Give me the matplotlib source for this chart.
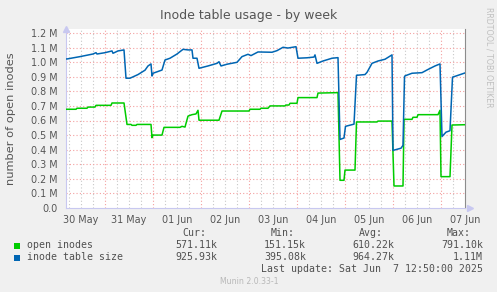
import matplotlib
matplotlib.use('Agg')
from matplotlib import pyplot as plt
from matplotlib.patches import Rectangle
import numpy as np

# hours since 30 May 00:00, values in millions
size_hours = [4.5, 5, 11.5, 18, 19.5, 20, 24, 27.5, 28, 30.5, 33.5, 34.5, 36.5, 40.5, 44,
              45.5, 47, 47.5, 48, 52.5, 54, 56.5, 60, 63, 65.5, 67.5, 68, 70, 71, 75.5,
              80, 81, 82, 85, 90, 92.5, 95.5, 97, 100.5, 107.5, 110, 113, 115.5, 119.5,
              120.5, 125, 128.5, 129, 130, 133, 137.5, 140.5, 141.5, 143.5, 144.25, 148.5,
              149.75, 154, 155, 157.5, 160.5, 164, 167.5, 168, 172, 173, 173.75, 174,
              177.5, 182.5, 185.5, 189, 191.5, 192.5, 194.5, 196.5, 197.75, 204]
size_vals = [1.022, 1.022, 1.038, 1.056, 1.065, 1.056, 1.065, 1.077, 1.061, 1.077, 1.084,
             0.89, 0.89, 0.915, 0.945, 0.974, 0.988, 0.905, 0.924, 0.946, 1.015, 1.027,
             1.056, 1.088, 1.084, 1.084, 1.027, 1.027, 0.958, 0.974, 0.992, 1.003, 0.974,
             0.986, 0.999, 1.038, 1.054, 1.045, 1.07, 1.068, 1.079, 1.102, 1.097, 1.106,
             1.027, 1.03, 1.035, 1.05, 0.992, 1.008, 1.027, 1.031, 0.47, 0.48, 0.56, 0.575,
             0.91, 0.915, 0.93, 0.992, 1.008, 1.02, 1.05, 0.395, 0.41, 0.43, 0.90, 0.906,
             0.924, 0.928, 0.95, 0.974, 0.988, 0.49, 0.52, 0.53, 0.897, 0.926]

open_hours = [4.5, 9.5, 10, 15, 15.5, 19, 19.5, 27, 27.5, 33.5, 35, 37, 37.5, 39.5, 40, 47,
              47.5, 48, 52.5, 53.5, 61.5, 62.5, 64, 65.5, 67.5, 69.5, 70.5, 71, 81, 82.5,
              96, 96.5, 101.5, 102, 105.5, 106.5, 114, 114.5, 116, 116.5, 120, 120.5, 130,
              130.5, 140.5, 141.5, 143.5, 144, 149, 149.75, 160, 160.5, 167.5, 168.5, 173,
              173.5, 177.5, 178, 180, 180.5, 190.5, 191.5, 192, 196.5, 197.5, 204]
open_vals = [0.677, 0.677, 0.684, 0.684, 0.692, 0.692, 0.704, 0.704, 0.72, 0.72, 0.573,
             0.573, 0.567, 0.567, 0.573, 0.573, 0.482, 0.50, 0.50, 0.553, 0.553, 0.56,
             0.555, 0.63, 0.64, 0.645, 0.67, 0.602, 0.602, 0.665, 0.665, 0.677, 0.677,
             0.684, 0.684, 0.70, 0.70, 0.706, 0.706, 0.718, 0.718, 0.757, 0.757, 0.788,
             0.791, 0.19, 0.19, 0.26, 0.26, 0.59, 0.59, 0.596, 0.596, 0.151, 0.151, 0.608,
             0.608, 0.622, 0.622, 0.64, 0.64, 0.67, 0.215, 0.215, 0.569, 0.571]

day_labels = ['30 May', '31 May', '01 Jun', '02 Jun', '03 Jun', '04 Jun', '05 Jun', '06 Jun', '07 Jun']
y_ticks = [0.0, 0.1, 0.2, 0.3, 0.4, 0.5, 0.6, 0.7, 0.8, 0.9, 1.0, 1.1, 1.2]

legend_names = ['open inodes', 'inode table size']
legend_colors = ['#00cc00', '#0066b3']
cur = ['571.11k', '925.93k']
mins = ['151.15k', '395.08k']
avgs = ['610.22k', '964.27k']
maxs = ['791.10k', '1.11M']

W, H = 497, 292
fig = plt.figure(figsize=(W / 100, H / 100), dpi=100, facecolor='#f0f0f0')

def px(x, y):
    return x / W, 1 - y / H

left, right, top, bottom = 66, 465, 29, 208
ax = fig.add_axes([left / W, 1 - bottom / H, (right - left) / W, (bottom - top) / H])
ax.set_facecolor('white')

ax.set_xlim(4.5, 204)
ax.set_ylim(0, 1.2 * (bottom - top) / 175)

# grid
for h in np.arange(6, 204, 6):
    if h % 24 == 0:
        continue
    ax.axvline(h, color='#c8c8c8', lw=0.8, ls=(0, (1, 2)), zorder=1)
for h in np.arange(24, 204, 24):
    ax.axvline(h, color='#f4a0a0', lw=0.8, ls=(0, (1, 2)), zorder=1)
for v in y_ticks[1:]:
    ax.axhline(v, color='#f4a0a0', lw=0.8, ls=(0, (1, 2)), zorder=1)

ax.plot(open_hours, open_vals, color=legend_colors[0], lw=1.1, zorder=3)
ax.plot(size_hours, size_vals, color=legend_colors[1], lw=1.1, zorder=3)

ax.set_yticks(y_ticks)
ax.set_yticklabels(['0.0'] + [f'{v:.1f} M' for v in y_ticks[1:]])
ax.set_xticks([12 + 24 * i for i in range(len(day_labels))])
ax.set_xticklabels(day_labels)
ax.tick_params(length=0, labelsize=6.9, colors='#555555', pad=5)
ax.tick_params(axis='y', pad=6)

ax.spines['top'].set_visible(False)
ax.spines['right'].set_color('#8c8c8c')
ax.spines['right'].set_linewidth(0.8)
ax.spines['left'].set_color('#c8c8f0')
ax.spines['bottom'].set_color('#c8c8f0')
ax.plot([0], [1.0], marker='^', color='#c8c8f0', ms=5, transform=ax.transAxes, clip_on=False)
ax.plot([1.012], [0], marker='>', color='#c8c8f0', ms=5, transform=ax.transAxes, clip_on=False)

fig.text(*px(248.5, 18.5), 'Inode table usage - by week', ha='center', va='baseline',
         fontsize=9, color='#555555')
fig.text(*px(11, 119), 'number of open inodes', rotation=90, ha='center', va='center',
         fontsize=8.2, color='#555555')
fig.text(*px(489, 57), 'RRDTOOL / TOBI OETIKER', rotation=-90, ha='center', va='center',
         fontsize=5.7, color='#c0c0c0')

mono = dict(family='DejaVu Sans Mono', fontsize=7.15, color='#505050', va='center')
for x, t in zip([182, 271, 359, 447], ['Cur:', 'Min:', 'Avg:', 'Max:']):
    fig.text(*px(x, 233), t, ha='left', **mono)

for i, name in enumerate(legend_names):
    y = 245.5 + 12 * i
    fig.patches.append(Rectangle(px(14, y + 3), 6 / W, 6 / H, transform=fig.transFigure,
                                 facecolor=legend_colors[i], edgecolor='none'))
    fig.text(*px(27, y), name, ha='left', **mono)
    for x, vals in zip([217, 306, 394, 483], [cur, mins, avgs, maxs]):
        fig.text(*px(x, y), vals[i], ha='right', **mono)

fig.text(*px(483, 269.5), 'Last update: Sat Jun  7 12:50:00 2025', ha='right', **mono)
fig.text(*px(249, 281), 'Munin 2.0.33-1', ha='center', va='center', fontsize=5.6,
         color='#b8b8b8')

fig.savefig('out.png', dpi=100, facecolor=fig.get_facecolor())
